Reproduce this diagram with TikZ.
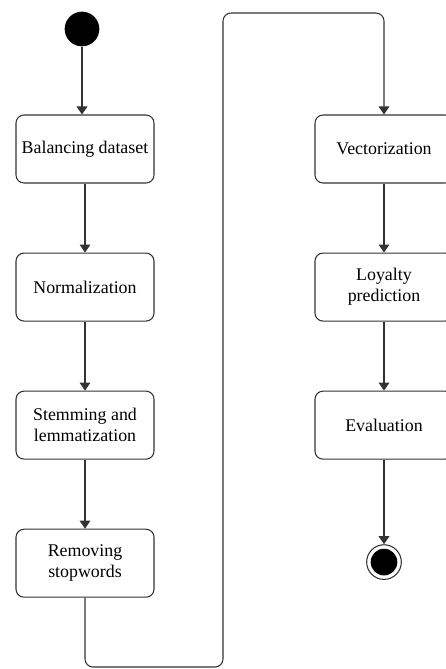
\documentclass[tikz,border=0pt]{standalone}
\usepackage{fontspec}
\setmainfont{Liberation Serif}
\usepackage{tikz}
\usetikzlibrary{arrows.meta, positioning}

\begin{document}
\begin{tikzpicture}[
  x=0.75pt, y=-0.75pt,
  node distance=51.75pt,
  activity/.style={draw=black!80, line width=0.8pt, rounded corners=6pt,
    minimum width=103.5pt, minimum height=51pt, align=center,
    font=\fontsize{13.4pt}{15.8pt}\selectfont},
  startnode/.style={circle, fill=black, minimum size=26pt, inner sep=0pt},
  endnode/.style={circle, draw=black!80, line width=0.8pt, minimum size=26pt, inner sep=0pt,
    path picture={\fill (path picture bounding box.center) circle (10pt);}},
  flow/.style={draw=black!80, line width=0.8pt, -{Triangle[length=6pt, width=8pt]}}
  ]

  \useasboundingbox (0,0) rectangle (446,669);
  \clip (0,0) rectangle (446,669);

  % left column
  \node[startnode] (start) at (82,29) {};
  \node[activity] (bal) at (85,149) {Balancing dataset};
  \node[activity, below=of bal] (norm) {Normalization};
  \node[activity, below=of norm] (stem) {Stemming and\\lemmatization};
  \node[activity, below=of stem] (stop) {Removing\\stopwords};

  % right column
  \node[activity] (vec) at (384,149) {Vectorization};
  \node[activity, below=of vec] (loyal) {Loyalty\\prediction};
  \node[activity, below=of loyal] (eval) {Evaluation};
  \node[endnode, below=63.4pt of eval] (end) {};

  \coordinate (low) at (223,667);
  \coordinate (high) at (223,13);

  \draw[flow] (start) -- (start |- bal.north);
  \draw[flow] (bal) -- (norm);
  \draw[flow] (norm) -- (stem);
  \draw[flow] (stem) -- (stop);
  \draw[flow, rounded corners=6pt] (stop.south) |- (low) -- (high) -| (vec.north);
  \draw[flow] (vec) -- (loyal);
  \draw[flow] (loyal) -- (eval);
  \draw[flow] (eval) -- (end);

\end{tikzpicture}
\end{document}
